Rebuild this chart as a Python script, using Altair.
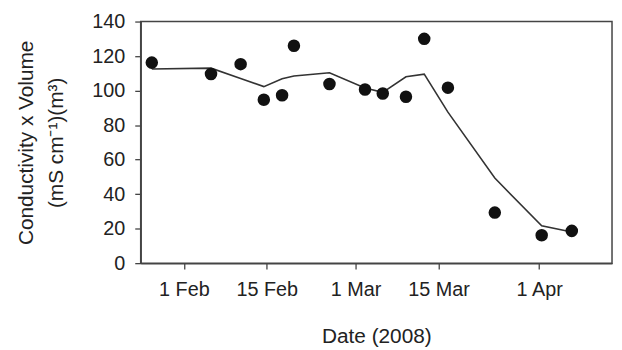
import altair as alt
import pandas as pd

# Sampling dates (2008)
dates = ["2008-01-26T14:00", "2008-02-05T14:00", "2008-02-10T14:00", "2008-02-14T12:00",
         "2008-02-17T14:00", "2008-02-19T14:00", "2008-02-25T14:00", "2008-03-02T14:00",
         "2008-03-05T14:00", "2008-03-09T12:00", "2008-03-12T14:00", "2008-03-16T14:00",
         "2008-03-24T12:00", "2008-04-01T10:00", "2008-04-06T12:00"]
# Observed conductivity x volume
observed = [116.2, 109.6, 115.3, 94.7, 97.3, 126.0, 103.8, 100.6, 98.3, 96.4, 130.0, 101.7,
            29.3, 16.2, 18.7]
# Modelled line
modelled = [112.5, 113.0, 107.0, 102.3, 106.9, 108.5, 110.3, 101.5, 99.0, 108.0, 109.5, 87.5,
            49.3, 21.6, 18.1]
y_ticks = [0, 20, 40, 60, 80, 100, 120, 140]

df = pd.DataFrame({"date": dates, "obs": observed, "model": modelled})

FONT = "Liberation Sans"
TXT = "#222222"

x_scale = alt.Scale(domain=["2008-01-24T17:00", "2008-04-13T07:00"])
x_axis = alt.Axis(
    values=[alt.DateTime(year=2008, month=2, date=1),
            alt.DateTime(year=2008, month=2, date=15),
            alt.DateTime(year=2008, month=3, date=1),
            alt.DateTime(year=2008, month=3, date=15),
            alt.DateTime(year=2008, month=4, date=1)],
    format="%-d %b",
    title="Date (2008)",
    grid=False,
    tickSize=6,
    labelPadding=11,
    labelOverlap=False,
    titleY=74,
    titleBaseline="middle",
)

y_scale = alt.Scale(domain=[0, 140], nice=False)
y_axis = alt.Axis(
    values=y_ticks,
    tickCount=8,
    title=["Conductivity x Volume", "(mS cm\u207b\u00b9)(m\u00b3)"],
    grid=False,
    tickSize=6,
    labelPadding=10,
    labelOverlap=False,
    titleX=-115,
    titleY=122,
    titleBaseline="middle",
    titleLineHeight=30,
)

line = alt.Chart(df).mark_line(color="#333333", strokeWidth=1.6).encode(
    x=alt.X("date:T", scale=x_scale, axis=x_axis),
    y=alt.Y("model:Q", scale=y_scale, axis=y_axis),
)

points = alt.Chart(df).mark_circle(color="#111111", size=160, opacity=1).encode(
    x=alt.X("date:T", scale=x_scale, axis=x_axis),
    y=alt.Y("obs:Q", scale=y_scale, axis=y_axis),
)

chart = (line + points).properties(
    width=476,
    height=244,
    autosize=alt.AutoSizeParams(type="none"),
    padding={"left": 134, "top": 12, "right": 2, "bottom": 84},
).configure_view(
    stroke="#444444", strokeWidth=1.5
).configure_axis(
    domainColor="#444444", domainWidth=1.5,
    tickColor="#444444", tickWidth=1.3,
    labelFont=FONT, labelFontSize=20, labelColor=TXT,
    titleFont=FONT, titleFontSize=21, titleColor=TXT, titleFontWeight="normal",
)

chart.save("out.html", embed_options={"renderer": "svg", "actions": False})
